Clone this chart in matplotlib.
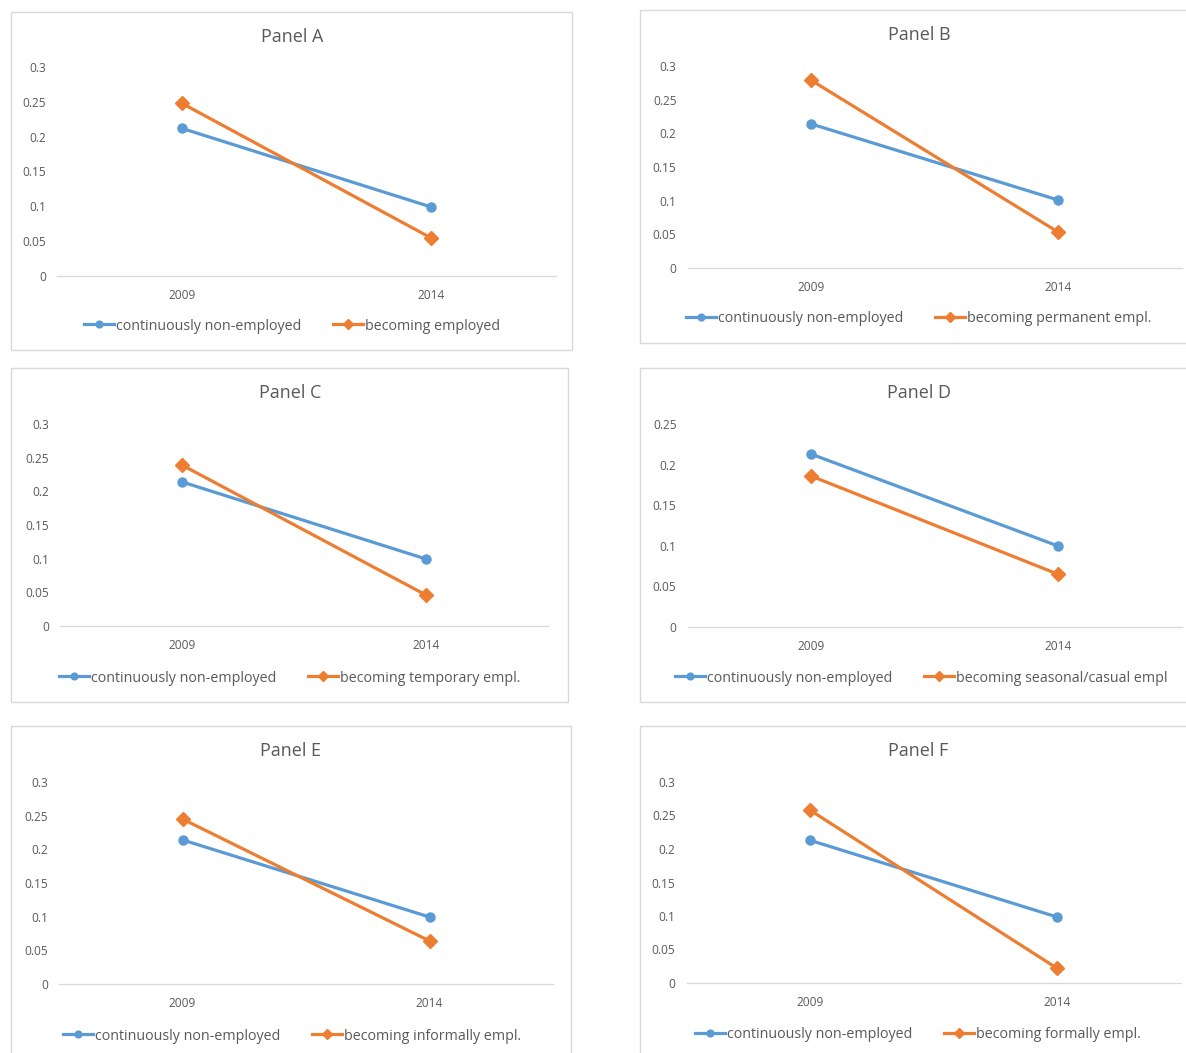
import matplotlib
matplotlib.use("Agg")
import matplotlib.pyplot as plt
from matplotlib.patches import Rectangle
from matplotlib.ticker import FuncFormatter, MultipleLocator

plt.rcParams['font.family'] = ['Open Sans', 'DejaVu Sans']

# --- data ---
years = ["2009", "2014"]
panel_titles = ["Panel A", "Panel B", "Panel C", "Panel D", "Panel E", "Panel F"]
nonemp_label = "continuously non-employed"
becoming_labels = ["becoming employed", "becoming permanent empl.", "becoming temporary empl.",
                   "becoming seasonal/casual empl", "becoming informally empl.", "becoming formally empl."]
nonemp_2009 = [0.212, 0.214, 0.214, 0.213, 0.214, 0.213]
nonemp_2014 = [0.099, 0.101, 0.0995, 0.0998, 0.0995, 0.0985]
becoming_2009 = [0.248, 0.279, 0.239, 0.186, 0.245, 0.258]
becoming_2014 = [0.0545, 0.0535, 0.046, 0.065, 0.064, 0.022]
y_max = [0.3, 0.3, 0.3, 0.25, 0.3, 0.3]

# --- layout in pixels (frame box, plot area, title, legend centre) ---
W, H = 1186, 1053
frames = [(11, 12, 572, 350), (640, 10, 1192, 343), (11, 368, 568, 702),
          (640, 368, 1192, 702), (11, 726, 571, 1060), (640, 726, 1192, 1060)]
plots = [(57, 67, 556, 276), (687.5, 66, 1181.5, 268), (60, 424, 548, 626),
         (687.5, 424, 1181.5, 627), (59, 782, 553, 984), (686.5, 782, 1180.5, 983)]
titles_xy = [(292, 37), (919, 35), (290, 393), (919, 393), (290, 751), (918, 751)]
legend_xy = [(292, 326), (919, 319), (290, 678), (921, 678), (292, 1036), (918, 1035)]

BLUE = "#5B9BD5"
ORANGE = "#ED7D31"
GRAY_TXT = "#595959"
GRID = "#D9D9D9"


def fx(x):
    return x / W


def fy(y):
    return 1 - y / H


fig = plt.figure(figsize=(W / 100, H / 100), dpi=100)

for i in range(6):
    x0, y0, x1, y1 = frames[i]
    fig.patches.append(Rectangle((fx(x0), fy(y1)), fx(x1 - x0), (y1 - y0) / H,
                                 transform=fig.transFigure, fill=False,
                                 edgecolor=GRID, linewidth=1.0, zorder=0))

    px0, py0, px1, py1 = plots[i]
    ax = fig.add_axes([fx(px0), fy(py1), fx(px1 - px0), (py1 - py0) / H])
    ax.plot(years, [nonemp_2009[i], nonemp_2014[i]], color=BLUE, lw=2.3,
            marker='o', ms=6.5, label=nonemp_label, clip_on=False)
    ax.plot(years, [becoming_2009[i], becoming_2014[i]], color=ORANGE, lw=2.3,
            marker='D', ms=7, label=becoming_labels[i], clip_on=False)
    ax.set_xlim(-0.5, 1.5)
    ax.set_ylim(0, y_max[i])
    ax.yaxis.set_major_locator(MultipleLocator(0.05))
    ax.yaxis.set_major_formatter(FuncFormatter(lambda v, p: f"{round(v, 2):g}"))
    ax.tick_params(axis='both', length=0, labelsize=8.6, colors=GRAY_TXT)
    ax.tick_params(axis='y', pad=8)
    ax.tick_params(axis='x', pad=9.5)
    for s in ['top', 'right', 'left']:
        ax.spines[s].set_visible(False)
    ax.spines['bottom'].set_color(GRID)
    ax.spines['bottom'].set_linewidth(0.9)
    ax.set_facecolor('none')

    tx, ty = titles_xy[i]
    fig.text(fx(tx), fy(ty), panel_titles[i], ha='center', va='center',
             fontsize=13, color=GRAY_TXT)

    lx, ly = legend_xy[i]
    ax.legend(loc='center', bbox_to_anchor=(fx(lx), fy(ly)),
              bbox_transform=fig.transFigure, ncol=2, frameon=False,
              fontsize=10.3, labelcolor=GRAY_TXT, handlelength=2.1,
              handletextpad=0.15, columnspacing=2.2, numpoints=1,
              markerscale=0.75, borderpad=0)

fig.savefig("out.png", dpi=100)
